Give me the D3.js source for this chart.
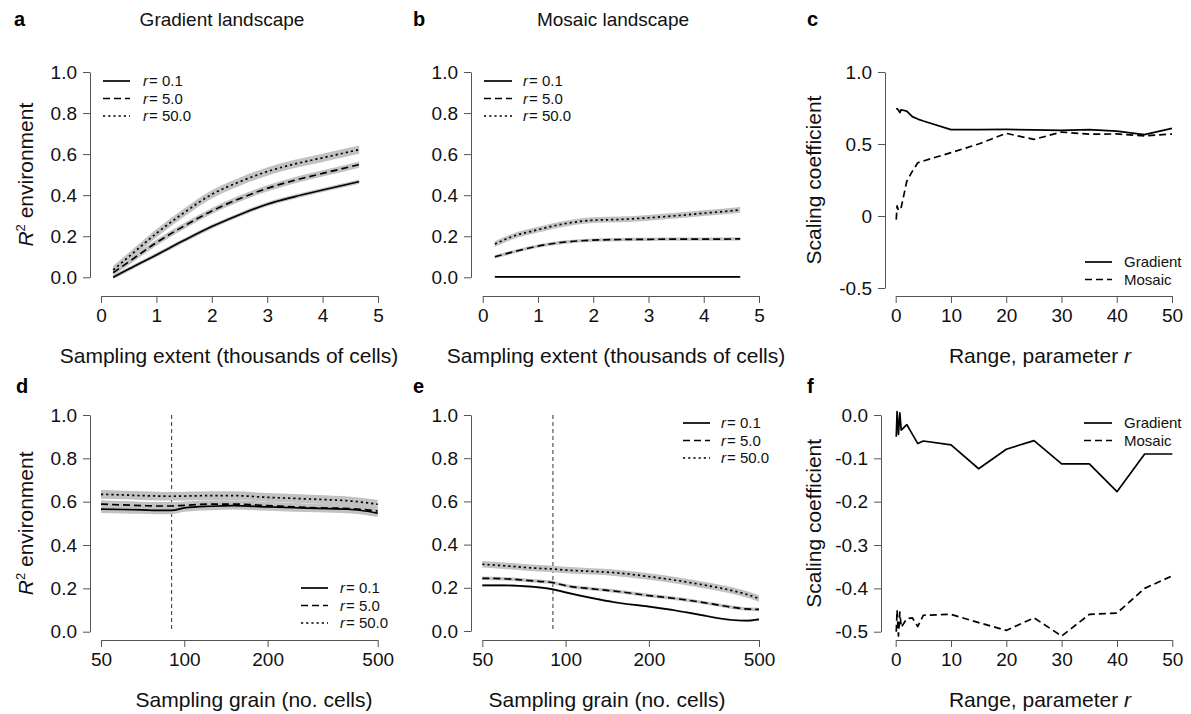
<!DOCTYPE html>
<html>
<head>
<meta charset="utf-8">
<script src="https://cdn.jsdelivr.net/npm/d3@7"></script>
<style>
  html, body { margin: 0; padding: 0; background: #fff; }
  svg { display: block; font-family: "Liberation Sans", Arial, Helvetica, sans-serif; }
</style>
</head>
<body>
<script>
// ---------------- DATA ----------------
// Panels a, b : sampling extent (thousands of cells)
const extent = [0.22, 0.5, 1, 1.5, 2, 2.5, 3, 3.5, 4, 4.66];
const gradExtR01 = [0.0, 0.04, 0.109, 0.18, 0.247, 0.305, 0.356, 0.393, 0.425, 0.466];
const gradExtR5  = [0.023, 0.075, 0.169, 0.25, 0.323, 0.383, 0.433, 0.473, 0.506, 0.549];
const gradExtR50 = [0.036, 0.10, 0.214, 0.315, 0.404, 0.465, 0.515, 0.552, 0.582, 0.622];
const mosExtR01  = [0.002, 0.002, 0.002, 0.002, 0.002, 0.002, 0.002, 0.002, 0.002, 0.002];
const mosExtR5   = [0.10, 0.12, 0.152, 0.172, 0.181, 0.184, 0.185, 0.186, 0.186, 0.187];
const mosExtR50  = [0.162, 0.195, 0.232, 0.262, 0.278, 0.282, 0.29, 0.30, 0.312, 0.328];
const bandGradExt = [0.01, 0.015, 0.02];   // half-width of grey confidence band
const bandMosExt  = [0.003, 0.008, 0.014];

// Panels d, e : sampling grain (no. cells)
const grain = [50, 60, 70, 80, 90, 100, 125, 150, 200, 250, 300, 400, 450, 500];
const gradGrR01 = [0.566, 0.564, 0.562, 0.56, 0.56, 0.571, 0.579, 0.582, 0.576, 0.572, 0.569, 0.564, 0.557, 0.547];
const gradGrR5  = [0.589, 0.585, 0.582, 0.58, 0.58, 0.583, 0.589, 0.589, 0.582, 0.576, 0.572, 0.568, 0.563, 0.557];
const gradGrR50 = [0.634, 0.631, 0.628, 0.626, 0.625, 0.626, 0.628, 0.628, 0.62, 0.615, 0.611, 0.603, 0.596, 0.588];
const mosGrR01  = [0.211, 0.211, 0.208, 0.202, 0.193, 0.179, 0.152, 0.133, 0.113, 0.095, 0.077, 0.051, 0.048, 0.054];
const mosGrR5   = [0.244, 0.242, 0.236, 0.23, 0.224, 0.21, 0.195, 0.185, 0.164, 0.15, 0.136, 0.11, 0.102, 0.10];
const mosGrR50  = [0.309, 0.302, 0.295, 0.29, 0.287, 0.282, 0.276, 0.27, 0.252, 0.235, 0.218, 0.187, 0.17, 0.15];
const bandGradGr = [0.018, 0.018, 0.02];
const bandMosGr  = [0.005, 0.008, 0.015];
const grainRef = 90;   // vertical reference line

// Panels c, f : range parameter r
const rangeR = [0.1, 0.25, 0.5, 0.75, 1, 2, 3, 4, 5, 10, 15, 20, 25, 30, 35, 40, 45, 50];
const scaleExtGrad = [0.741, 0.745, 0.735, 0.718, 0.738, 0.728, 0.69, 0.673, 0.66, 0.60, 0.60, 0.601, 0.598, 0.595, 0.60, 0.59, 0.565, 0.608];
const scaleExtMos  = [-0.025, 0.07, 0.04, 0.06, 0.06, 0.24, 0.31, 0.37, 0.382, 0.44, 0.50, 0.574, 0.532, 0.583, 0.568, 0.57, 0.556, 0.569];
const scaleGrGrad  = [-0.05, 0.008, -0.045, 0.005, -0.035, -0.022, -0.044, -0.066, -0.06, -0.069, -0.124, -0.079, -0.059, -0.113, -0.113, -0.177, -0.09, -0.09];
const scaleGrMos   = [-0.50, -0.45, -0.51, -0.455, -0.49, -0.47, -0.468, -0.488, -0.462, -0.46, -0.479, -0.497, -0.468, -0.51, -0.46, -0.457, -0.40, -0.371];

// Ticks and labels
const r2Ticks = [0, 0.2, 0.4, 0.6, 0.8, 1.0];
const r2TickLabels = ["0.0", "0.2", "0.4", "0.6", "0.8", "1.0"];
const extentTicks = [0, 1, 2, 3, 4, 5];
const extentTickLabels = ["0", "1", "2", "3", "4", "5"];
const grainTicks = [50, 100, 200, 500];
const grainTickLabels = ["50", "100", "200", "500"];
const rTicks = [0, 10, 20, 30, 40, 50];
const rTickLabels = ["0", "10", "20", "30", "40", "50"];
const cTicks = [-0.5, 0, 0.5, 1.0];
const cTickLabels = ["-0.5", "0", "0.5", "1.0"];
const fTicks = [-0.5, -0.4, -0.3, -0.2, -0.1, 0.0];
const fTickLabels = ["-0.5", "-0.4", "-0.3", "-0.2", "-0.1", "0.0"];

const rLegend = ["0.1", "5.0", "50.0"];
const typeLegend = ["Gradient", "Mosaic"];
const dashStyles = [null, "7,4", "2.2,3"];

// ---------------- DRAWING ----------------
const svg = d3.select("body").append("svg").attr("width", 1191).attr("height", 714);
const AX = "#555";

function panel(cfg) {
  const g = svg.append("g");
  const x = (cfg.log ? d3.scaleLog() : d3.scaleLinear()).domain(cfg.xDomain).range(cfg.xRange);
  const y = d3.scaleLinear().domain(cfg.yDomain).range([cfg.yRange[0], cfg.yRange[1]]);

  // axes
  const ya = g.append("g").attr("transform", `translate(${cfg.yAxisX},0)`)
    .call(d3.axisLeft(y).tickValues(cfg.yTicks).tickFormat((d, i) => cfg.yTickLabels[i])
      .tickSize(7).tickPadding(6).tickSizeOuter(0));
  const xa = g.append("g").attr("transform", `translate(0,${cfg.xAxisY})`)
    .call(d3.axisBottom(x).tickValues(cfg.xTicks).tickFormat((d, i) => cfg.xTickLabels[i])
      .tickSize(7).tickPadding(6).tickSizeOuter(0));
  [ya, xa].forEach(a => {
    a.select(".domain").attr("stroke", AX).attr("stroke-width", 1);
    a.selectAll(".tick line").attr("stroke", AX).attr("stroke-width", 1);
    a.selectAll(".tick text").attr("fill", "#111").style("font-size", "19px")
      .style("font-family", '"Liberation Sans", Arial, sans-serif');
  });

  // reference line
  if (cfg.refX !== undefined) {
    g.append("line").attr("x1", x(cfg.refX)).attr("x2", x(cfg.refX))
      .attr("y1", y(cfg.yDomain[1])).attr("y2", y(cfg.yDomain[0]))
      .attr("stroke", "#333").attr("stroke-width", 1).attr("stroke-dasharray", "4,3");
  }

  // bands
  cfg.series.forEach(s => {
    if (s.band === undefined) return;
    const area = d3.area().curve(cfg.curve)
      .x((d, i) => x(cfg.xs[i])).y0(d => y(d - s.band)).y1(d => y(d + s.band));
    g.append("path").datum(s.values).attr("d", area).attr("fill", "#c2c2c2").attr("stroke", "none");
  });
  // lines
  cfg.series.forEach(s => {
    const line = d3.line().curve(cfg.curve).x((d, i) => x(cfg.xs[i])).y(d => y(d));
    g.append("path").datum(s.values).attr("d", line).attr("fill", "none")
      .attr("stroke", "#000").attr("stroke-width", 1.7)
      .attr("stroke-dasharray", s.dash).attr("stroke-linejoin", "round");
  });

  // legend
  const L = cfg.legend;
  L.labels.forEach((lab, i) => {
    const yy = L.y + i * L.dy;
    g.append("line").attr("x1", L.x1).attr("x2", L.x2).attr("y1", yy).attr("y2", yy)
      .attr("stroke", "#000").attr("stroke-width", 1.7).attr("stroke-dasharray", dashStyles[i]);
    const t = g.append("text").attr("x", L.tx).attr("y", yy + 5).style("font-size", "15px").attr("fill", "#111");
    if (L.isR) {
      t.append("tspan").style("font-style", "italic").text("r");
      t.append("tspan").attr("dx", 1).text("= " + lab);
    } else {
      t.text(lab);
    }
  });

  // axis titles
  const xt = g.append("text").attr("x", cfg.xTitleX).attr("y", cfg.xTitleY)
    .attr("text-anchor", "middle").style("font-size", "21px").attr("fill", "#111");
  if (cfg.xTitleItalicR) {
    xt.append("tspan").text("Range, parameter ");
    xt.append("tspan").style("font-style", "italic").text("r");
  } else {
    xt.text(cfg.xTitle);
  }
  if (cfg.yTitle) {
    const yc = (cfg.yRange[0] + cfg.yRange[1]) / 2;
    const yt = g.append("text").attr("transform", `translate(${cfg.yTitleX},${yc}) rotate(-90)`)
      .attr("text-anchor", "middle").style("font-size", "21px").attr("fill", "#111");
    if (cfg.yTitle === "R2") {
      yt.append("tspan").style("font-style", "italic").text("R");
      yt.append("tspan").attr("dy", -8).style("font-size", "13px").text("2");
      yt.append("tspan").attr("dy", 8).text(" environment");
    } else {
      yt.text(cfg.yTitle);
    }
  }

  // panel letter & title
  svg.append("text").attr("x", cfg.letterX).attr("y", cfg.letterY).text(cfg.letter)
    .style("font-size", "20px").style("font-weight", "bold").attr("fill", "#000");
  if (cfg.title) {
    svg.append("text").attr("x", cfg.titleX).attr("y", 26).attr("text-anchor", "middle")
      .style("font-size", "19px").attr("fill", "#111").text(cfg.title);
  }
}

const smooth = d3.curveMonotoneX;

panel({
  letter: "a", letterX: 14, letterY: 26, title: "Gradient landscape", titleX: 222,
  xDomain: [0, 5], xRange: [101, 378], yDomain: [0, 1], yRange: [277.3, 72],
  yAxisX: 90, xAxisY: 296, yTicks: r2Ticks, yTickLabels: r2TickLabels,
  xTicks: extentTicks, xTickLabels: extentTickLabels, xs: extent, curve: smooth,
  series: [
    { values: gradExtR01, dash: null, band: bandGradExt[0] },
    { values: gradExtR5, dash: dashStyles[1], band: bandGradExt[1] },
    { values: gradExtR50, dash: dashStyles[2], band: bandGradExt[2] }],
  legend: { labels: rLegend, isR: true, x1: 103, x2: 130, tx: 143, y: 81, dy: 17.5 },
  xTitle: "Sampling extent (thousands of cells)", xTitleX: 229, xTitleY: 363,
  yTitle: "R2", yTitleX: 33
});

panel({
  letter: "b", letterX: 413, letterY: 26, title: "Mosaic landscape", titleX: 613,
  xDomain: [0, 5], xRange: [482.7, 759], yDomain: [0, 1], yRange: [277.3, 72],
  yAxisX: 471, xAxisY: 296, yTicks: r2Ticks, yTickLabels: r2TickLabels,
  xTicks: extentTicks, xTickLabels: extentTickLabels, xs: extent, curve: smooth,
  series: [
    { values: mosExtR01, dash: null, band: bandMosExt[0] },
    { values: mosExtR5, dash: dashStyles[1], band: bandMosExt[1] },
    { values: mosExtR50, dash: dashStyles[2], band: bandMosExt[2] }],
  legend: { labels: rLegend, isR: true, x1: 484, x2: 512, tx: 523, y: 81, dy: 17.5 },
  xTitle: "Sampling extent (thousands of cells)", xTitleX: 616, xTitleY: 363
});

panel({
  letter: "c", letterX: 807, letterY: 26,
  xDomain: [0, 50], xRange: [895.7, 1172], yDomain: [-0.5, 1], yRange: [288, 72],
  yAxisX: 885, xAxisY: 296, yTicks: cTicks, yTickLabels: cTickLabels,
  xTicks: rTicks, xTickLabels: rTickLabels, xs: rangeR, curve: d3.curveLinear,
  series: [
    { values: scaleExtGrad, dash: null },
    { values: scaleExtMos, dash: dashStyles[1] }],
  legend: { labels: typeLegend, isR: false, x1: 1085, x2: 1112, tx: 1124, y: 262, dy: 17.5 },
  xTitleItalicR: true, xTitleX: 1040, xTitleY: 363,
  yTitle: "Scaling coefficient", yTitleX: 821
});

panel({
  letter: "d", letterX: 16, letterY: 393,
  log: true, xDomain: [50, 500], xRange: [101, 377.7], yDomain: [0, 1], yRange: [631.7, 415],
  yAxisX: 90, xAxisY: 640, yTicks: r2Ticks, yTickLabels: r2TickLabels,
  xTicks: grainTicks, xTickLabels: grainTickLabels, xs: grain, curve: smooth, refX: grainRef,
  series: [
    { values: gradGrR01, dash: null, band: bandGradGr[0] },
    { values: gradGrR5, dash: dashStyles[1], band: bandGradGr[1] },
    { values: gradGrR50, dash: dashStyles[2], band: bandGradGr[2] }],
  legend: { labels: rLegend, isR: true, x1: 301, x2: 328, tx: 340, y: 588, dy: 17.5 },
  xTitle: "Sampling grain (no. cells)", xTitleX: 254, xTitleY: 707,
  yTitle: "R2", yTitleX: 33
});

panel({
  letter: "e", letterX: 413, letterY: 393,
  log: true, xDomain: [50, 500], xRange: [482.3, 759], yDomain: [0, 1], yRange: [631, 415],
  yAxisX: 471, xAxisY: 640, yTicks: r2Ticks, yTickLabels: r2TickLabels,
  xTicks: grainTicks, xTickLabels: grainTickLabels, xs: grain, curve: smooth, refX: grainRef,
  series: [
    { values: mosGrR01, dash: null, band: bandMosGr[0] },
    { values: mosGrR5, dash: dashStyles[1], band: bandMosGr[1] },
    { values: mosGrR50, dash: dashStyles[2], band: bandMosGr[2] }],
  legend: { labels: rLegend, isR: true, x1: 683, x2: 710, tx: 721, y: 423, dy: 17.5 },
  xTitle: "Sampling grain (no. cells)", xTitleX: 607, xTitleY: 707
});

panel({
  letter: "f", letterX: 807, letterY: 393,
  xDomain: [0, 50], xRange: [895.7, 1172.3], yDomain: [-0.5, 0], yRange: [631.7, 415],
  yAxisX: 881, xAxisY: 640, yTicks: fTicks, yTickLabels: fTickLabels,
  xTicks: rTicks, xTickLabels: rTickLabels, xs: rangeR, curve: d3.curveLinear,
  series: [
    { values: scaleGrGrad, dash: null },
    { values: scaleGrMos, dash: dashStyles[1] }],
  legend: { labels: typeLegend, isR: false, x1: 1084, x2: 1112, tx: 1124, y: 423, dy: 17.5 },
  xTitleItalicR: true, xTitleX: 1040, xTitleY: 707,
  yTitle: "Scaling coefficient", yTitleX: 821
});
</script>
</body>
</html>
